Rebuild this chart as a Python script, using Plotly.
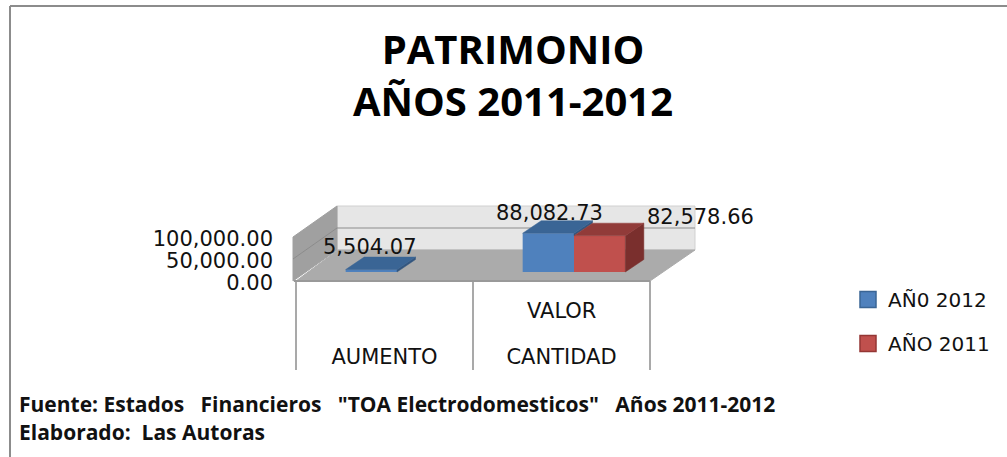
import plotly.graph_objects as go

categories = ["AUMENTO", "CANTIDAD"]
upper_label = "VALOR"
series_names = ["AÑ0 2012", "AÑO 2011"]
values_2012 = [5504.07, 88082.73]
values_2011 = [None, 82578.66]
y_ticks = [0, 50000, 100000]
title_text = "PATRIMONIO<br>AÑOS 2011-2012"
foot_1 = "Fuente: Estados\u00a0\u00a0 Financieros\u00a0\u00a0 \"TOA Electrodomesticos\"\u00a0\u00a0 Años 2011-2012"
foot_2 = "Elaborado:\u00a0 Las Autoras"

W, H = 1007, 457
L, R, T, B = 280, 720, 190, 371
SLOT = 177.0            # px per category
PXV = 44 / 100000.0     # px per value unit
CX0 = 384.5             # px of category 0 on the front plane
Y0 = 283                # px of value 0 on the tick scale
BAR_DX, BAR_Y0 = 12.5, 272  # bars sit deeper in the box
DEPTH_DX, DEPTH_DY = 18.5, 12.5
BAR_W = 0.29

X = lambda p: (p - CX0) / SLOT
Y = lambda p: (Y0 - p) / PXV
dx_u = DEPTH_DX / SLOT
dv_u = DEPTH_DY / PXV


def poly(points):
    return "M " + " L ".join(f"{X(a):.4f},{Y(b):.1f}" for a, b in points) + " Z"


def face(pts, color, name):
    return go.Scatter(x=[p[0] for p in pts], y=[p[1] for p in pts], xaxis="x2", yaxis="y2",
                      mode="lines", fill="toself", fillcolor=color, line=dict(width=0.5, color=color),
                      showlegend=False, hoverinfo="skip", name=name)


TXT = "#111111"
LAB = "DejaVu Sans"
fig = go.Figure()

blue, red = "#4F81BD", "#C0504D"
for vals, name, color, off in [(values_2012, series_names[0], blue, -BAR_W / 2),
                               (values_2011, series_names[1], red, BAR_W / 2)]:
    fig.add_trace(go.Bar(x=list(range(len(categories))), y=vals, width=BAR_W, offset=-BAR_W / 2 + off,
                         xaxis="x2", yaxis="y2", marker=dict(color=color, line=dict(width=0)),
                         name=name, showlegend=False))

# depth faces computed from the same values; the blue side only shows above the red bar beside it
for vals, beside, off, top_c, side_c in [(values_2012, values_2011, -BAR_W, "#3A6595", "#33567F"),
                                         (values_2011, None, 0.0, "#913B39", "#7A2F2D")]:
    for i, v in enumerate(vals):
        if v is None:
            continue
        x0, x1 = i + off, i + off + BAR_W
        low = (beside[i] if beside is not None and beside[i] is not None else 0)
        fig.add_trace(face([(x1, low), (x1 + dx_u, low + dv_u), (x1 + dx_u, v + dv_u), (x1, v), (x1, low)], side_c, "side"))
        fig.add_trace(face([(x0, v), (x1, v), (x1 + dx_u, v + dv_u), (x0 + dx_u, v + dv_u), (x0, v)], top_c, "top"))

# legend swatches
for name, color, edge in [(series_names[0], blue, "#3A6595"), (series_names[1], red, "#943634")]:
    fig.add_trace(go.Scatter(x=[None], y=[None], mode="markers", name=name, legendgroup=name,
                             marker=dict(symbol="square", size=16, color=color, line=dict(width=1.5, color=edge))))

GRAY = "#8C8C8C"
shapes = [
    dict(type="path", path=poly([(337, 206), (695, 206), (695, 250), (337, 250)]), fillcolor="#E6E6E6",
         line=dict(width=1, color="#D0D0D0"), layer="below"),
    dict(type="path", path=poly([(293, 237), (337, 206), (337, 250), (293, 281)]), fillcolor="#A0A0A0",
         line=dict(width=1, color="#A0A0A0"), layer="below"),
    dict(type="path", path=poly([(296, 281), (338, 250), (695, 250), (650, 281)]), fillcolor="#ABABAB",
         line=dict(width=1, color="#ABABAB"), layer="below"),
    dict(type="path", path=poly([(293, 259), (337, 228), (695, 228)]).replace(" Z", ""), line=dict(width=1, color="#8C8C8C"),
         layer="below"),
]
for p in (296, 473, 650):
    shapes.append(dict(type="line", x0=X(p), x1=X(p), y0=Y(281), y1=Y(370), line=dict(width=1.5, color=GRAY), layer="below"))
shapes.append(dict(type="line", x0=X(294), x1=X(650), y0=Y(281), y1=Y(281), line=dict(width=2, color="#999999"), layer="below"))

# outer frame, in paper units
PX = lambda p: (p - L) / (R - L)
PY = lambda p: (B - p) / (B - T)
shapes.append(dict(type="line", xref="paper", yref="paper", x0=PX(10), x1=PX(1007), y0=PY(6), y1=PY(6),
                   line=dict(width=2, color="#8C8C8C")))
shapes.append(dict(type="line", xref="paper", yref="paper", x0=PX(10), x1=PX(10), y0=PY(6), y1=PY(457),
                   line=dict(width=2, color="#8C8C8C")))

annos = [
    dict(x=1, y=Y(311), xref="x", yref="y", text=upper_label, showarrow=False, font=dict(family=LAB, size=21, color=TXT)),
    dict(x=PX(17), y=PY(404), xref="paper", yref="paper", xanchor="left", yanchor="middle", text=f"<b>{foot_1}</b>",
         showarrow=False, font=dict(family="Open Sans", size=21, color=TXT)),
    dict(x=PX(17), y=PY(432), xref="paper", yref="paper", xanchor="left", yanchor="middle", text=f"<b>{foot_2}</b>",
         showarrow=False, font=dict(family="Open Sans", size=21, color=TXT)),
]
# data labels anchored to their bars
for vals, off, xs, ys in [(values_2012, -BAR_W / 2, [-1, 1], [9, 6]), (values_2011, BAR_W / 2, [None, 101], [None, 5])]:
    for i, v in enumerate(vals):
        if v is None:
            continue
        annos.append(dict(x=i + off, y=v, xref="x2", yref="y2", text=f"{v:,.2f}", showarrow=False,
                          xshift=xs[i], yshift=ys[i], yanchor="bottom",
                          font=dict(family=LAB, size=21, color=TXT)))

fig.update_layout(
    width=W, height=H, margin=dict(l=L, r=W - R, t=T, b=H - B, pad=0),
    paper_bgcolor="white", plot_bgcolor="rgba(0,0,0,0)", barmode="overlay",
    title=dict(text=f"<b>{title_text}</b>", x=513 / W, xanchor="center", y=0.86, yanchor="top",
               font=dict(family="Open Sans", size=40, color="#000000")),
    xaxis=dict(range=[X(L), X(R)], tickmode="array", tickvals=list(range(len(categories))), ticktext=categories,
               ticklabelposition="inside", ticks="", showgrid=False, zeroline=False, showline=False,
               tickfont=dict(family=LAB, size=21, color=TXT)),
    xaxis2=dict(range=[(L - CX0 - BAR_DX) / SLOT, (R - CX0 - BAR_DX) / SLOT], overlaying="x", visible=False),
    yaxis=dict(range=[Y(B), Y(T)], tickmode="array", tickvals=y_ticks, tickformat=",.2f", ticks="", showgrid=False,
               zeroline=False, showline=False, ticklabelstandoff=6, tickfont=dict(family=LAB, size=21, color=TXT)),
    yaxis2=dict(range=[(BAR_Y0 - B) / PXV, (BAR_Y0 - T) / PXV], overlaying="y", visible=False),
    legend=dict(x=848 / W, xref="container", y=1 - 280 / H, yref="container", xanchor="left", yanchor="top",
                font=dict(family=LAB, size=20, color=TXT), tracegroupgap=15, itemsizing="trace",
                bgcolor="rgba(0,0,0,0)", itemclick=False, itemdoubleclick=False),
    shapes=shapes, annotations=annos,
)
fig.write_html("out.html", post_script="document.body.style.margin='0';document.documentElement.style.overflow='hidden';",
               config={"displayModeBar": False})
